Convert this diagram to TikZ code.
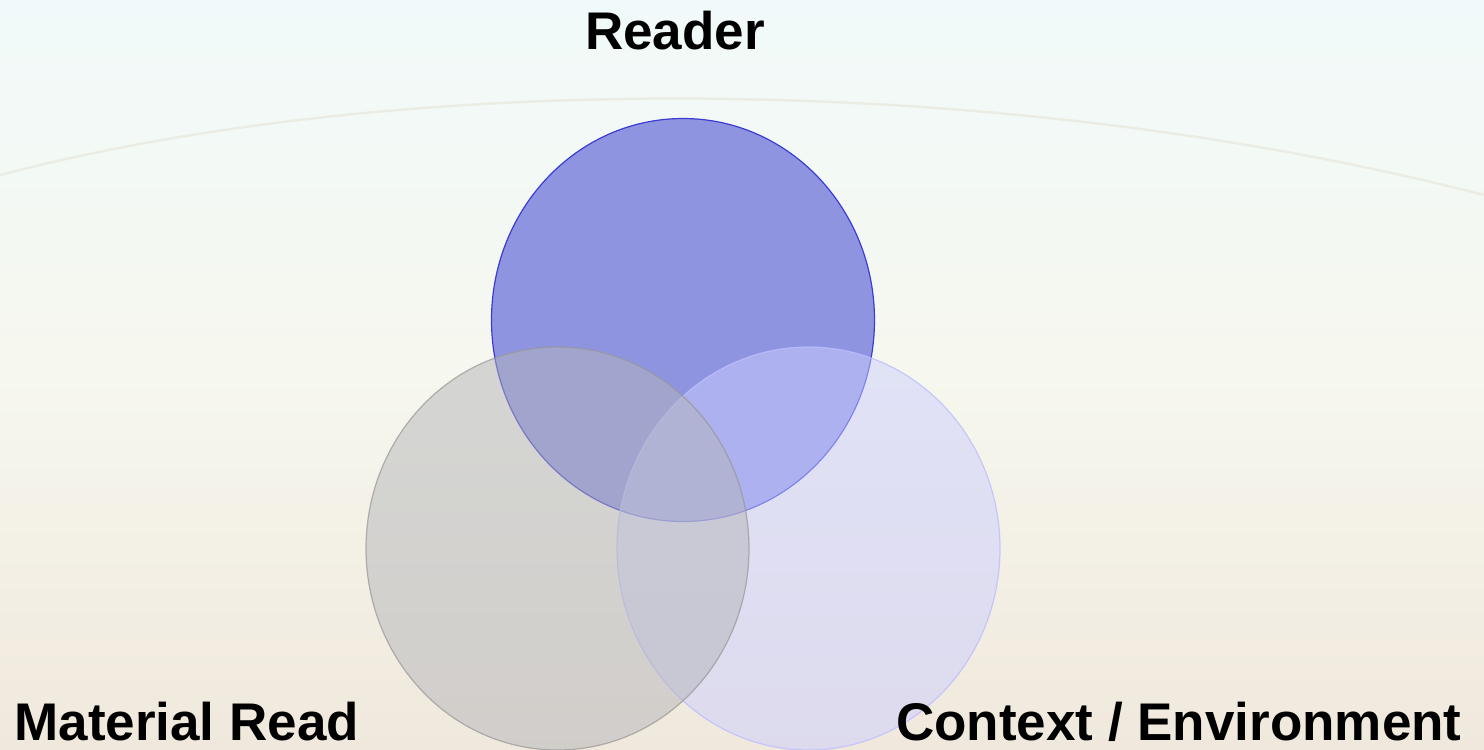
\documentclass[tikz,border=0pt]{standalone}
\usepackage{fontspec}
\setmainfont{Liberation Sans}
\usetikzlibrary{shapes.geometric}
\definecolor{bgtop}{RGB}{241,250,250}
\definecolor{bgmid}{RGB}{246,247,238}
\definecolor{bgbot}{RGB}{240,232,220}
\definecolor{arcline}{RGB}{235,236,228}
\definecolor{readerfill}{RGB}{143,148,224}
\definecolor{readerdraw}{RGB}{60,60,210}
\definecolor{matfill}{RGB}{180,181,186}
\definecolor{matdraw}{RGB}{150,150,150}
\definecolor{ctxfill}{RGB}{204,206,255}
\definecolor{ctxdraw}{RGB}{190,190,255}
\tikzset{
  venn/.style={ellipse, inner sep=0pt, minimum width=191.5pt, minimum height=201.5pt},
  lbl/.style={font=\fontsize{26.5pt}{30pt}\selectfont\bfseries, inner sep=0pt}
}
\begin{document}
\begin{tikzpicture}[x=0.5pt,y=-0.5pt]
\useasboundingbox (0,0) rectangle (1484,750);
\shade[top color=bgtop, bottom color=bgbot, middle color=bgmid] (0,0) rectangle (1484,750);
\draw[arcline, line width=1.2pt] (0,175) .. controls (400,70) and (1000,70) .. (1484,195);
\node[venn, fill=readerfill, draw=readerdraw, line width=0.6pt] (reader) at (683,320) {};
\node[venn, fill=ctxfill, fill opacity=0.5, draw=ctxdraw, draw opacity=0.8, line width=0.6pt] (context) at (808.5,548.5) {};
\node[venn, fill=matfill, fill opacity=0.5, draw=matdraw, draw opacity=0.7, line width=0.6pt] (material) at (557.5,548.5) {};
\node[lbl, anchor=base] (readerlbl) at (675,49) {Reader};
\node[lbl, anchor=base west] (matlbl) at (14,740) {Material Read};
\node[lbl, anchor=base east] (ctxlbl) at (1462,740) {Context / Environment};
\end{tikzpicture}
\end{document}
